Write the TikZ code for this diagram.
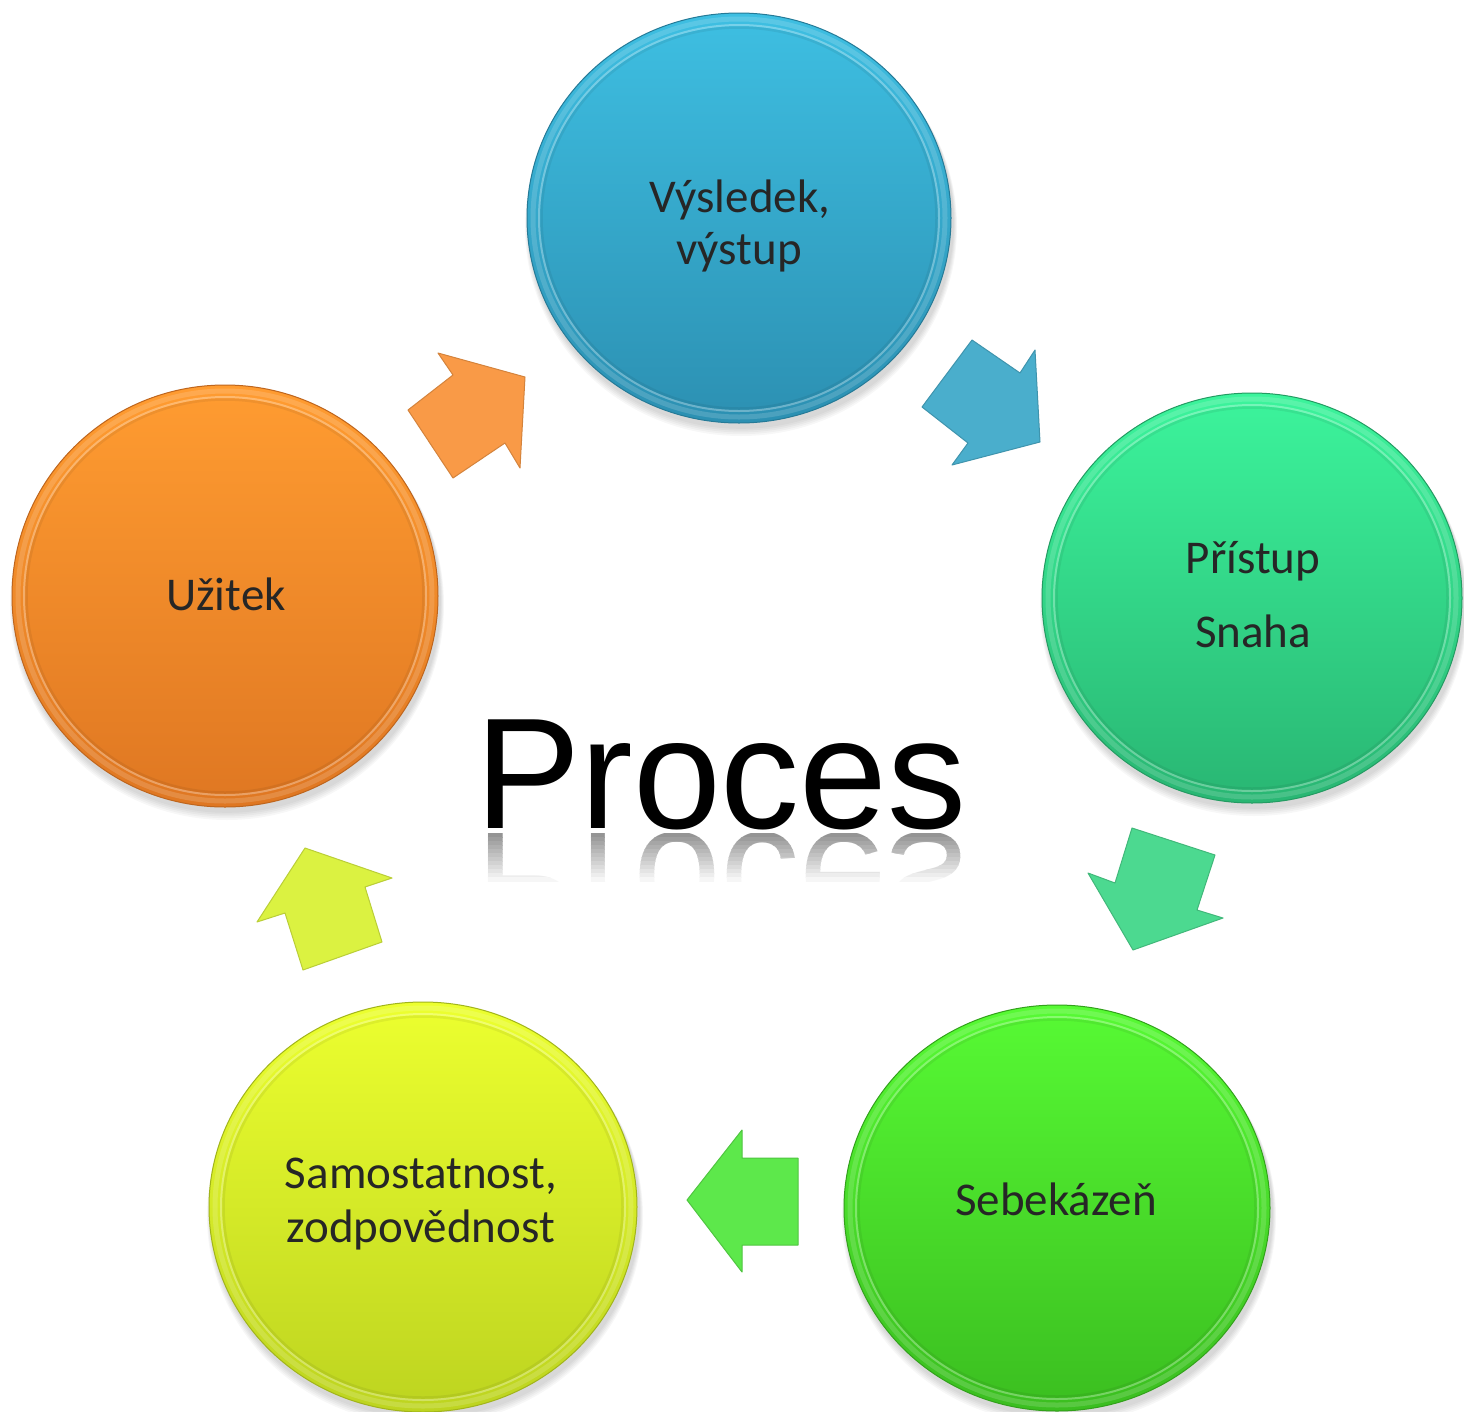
\documentclass[tikz,border=0pt]{standalone}
\usepackage{fontspec}
\newfontfamily\cfont{Carlito}
\newfontfamily\pfont{Liberation Sans}
\usetikzlibrary{shapes.geometric}
\definecolor{blueT}{HTML}{3EBFE2}
\definecolor{blueB}{HTML}{2C90B2}
\definecolor{tealT}{HTML}{3CF49C}
\definecolor{tealB}{HTML}{29B673}
\definecolor{grnT}{HTML}{57FA34}
\definecolor{grnB}{HTML}{3BBE20}
\definecolor{yelT}{HTML}{ECFF2F}
\definecolor{yelB}{HTML}{BDD420}
\definecolor{orgT}{HTML}{FF9C31}
\definecolor{orgB}{HTML}{DF7722}
\definecolor{arOrg}{HTML}{F99A47}
\definecolor{arBlue}{HTML}{4AAECC}
\definecolor{arTeal}{HTML}{4CD990}
\definecolor{arGrn}{HTML}{5DE84B}
\definecolor{arYel}{HTML}{DBF241}
\definecolor{txt}{HTML}{262626}
\begin{document}
\begin{tikzpicture}[x=1pt,y=-1pt,
  disc/.style={ellipse, inner sep=0pt, line width=1pt},
  lbl/.style={font=\cfont\fontsize{47}{53}\selectfont, text=txt, inner sep=0pt, anchor=base},
  blockarrow/.style={line width=1pt, line join=round}]
\useasboundingbox (0,0) rectangle (1464,1411);
\fill[white] (0,0) rectangle (1464,1411);

% circles
\foreach \n/\x/\y/\w/\h/\ct/\cb in {
  vys/739/218/424/410/blueT/blueB,
  pri/1252/598/420/410/tealT/tealB,
  seb/1057/1208/426/406/grnT/grnB,
  sam/423/1207/428/410/yelT/yelB,
  uzi/225/596/426/422/orgT/orgB}{
  \foreach \k in {1,...,5}{
    \fill[black, opacity=0.03] (\x+2,\y+4+\k) ellipse ({\w/2+\k*0.8} and {\h/2+\k*0.8});
  }
  \node[disc, minimum width=\w, minimum height=\h, top color=\ct, bottom color=\cb, draw=\cb!85!black] (\n) at (\x,\y) {};
  \draw[white, opacity=0.3, line width=2pt] (\n.center) ellipse ({\w/2-12} and {\h/2-12});
  \draw[black, opacity=0.06, line width=2.5pt] (\n.center) ellipse ({\w/2-14.5} and {\h/2-14.5});
  \draw[white, opacity=0.15, line width=5pt] (\n.center) ellipse ({\w/2-6} and {\h/2-6});
}

% labels
\node[lbl] (vysA) at (740,212) {Výsledek,};
\node[lbl] (vysB) at (739,264) {výstup};
\node[lbl] (priA) at (1253,573) {Přístup};
\node[lbl] (priB) at (1253,647) {Snaha};
\node[lbl] (sebA) at (1056,1215) {Sebekázeň};
\node[lbl] (samA) at (421,1188) {Samostatnost,};
\node[lbl] (samB) at (421,1242) {zodpovědnost};
\node[lbl] (uziA) at (226,610) {Užitek};

% block arrows
\filldraw[blockarrow, fill=arOrg, draw=arOrg!85!black]
  (408,410) -- (453,375) -- (438,353) -- (525,377) -- (520,468) -- (505,443) -- (453,478) -- cycle;
\filldraw[blockarrow, fill=arBlue, draw=arBlue!85!black]
  (972,340) -- (1020,373) -- (1035,350) -- (1040,442) -- (952,465) -- (968,443) -- (922,407) -- cycle;
\filldraw[blockarrow, fill=arTeal, draw=arTeal!85!black]
  (1132,828) -- (1215,855) -- (1197,910) -- (1223,918) -- (1133,950) -- (1088,873) -- (1115,883) -- cycle;
\filldraw[blockarrow, fill=arGrn, draw=arGrn!85!black]
  (798,1158) -- (798,1245) -- (742,1245) -- (742,1272) -- (687,1200) -- (742,1130) -- (742,1158) -- cycle;
\filldraw[blockarrow, fill=arYel, draw=arYel!85!black]
  (305,848) -- (392,878) -- (365,887) -- (382,942) -- (303,970) -- (285,913) -- (257,922) -- cycle;

% title with reflection
\node[font=\pfont\fontsize{158}{158}\selectfont, inner sep=0pt, anchor=base] (proc) at (721,828) {Proces};
\foreach \i in {0,...,11}{
  \pgfmathsetmacro{\shade}{42-\i*3.5}
  \begin{scope}
    \clip (460,{833+\i*4}) rectangle (980,{837.5+\i*4});
    \node[font=\pfont\fontsize{158}{158}\selectfont, inner sep=0pt, anchor=base, text=black!\shade] at (721,833) {\scalebox{1}[-1]{Proces}};
  \end{scope}
}
\end{tikzpicture}
\end{document}
